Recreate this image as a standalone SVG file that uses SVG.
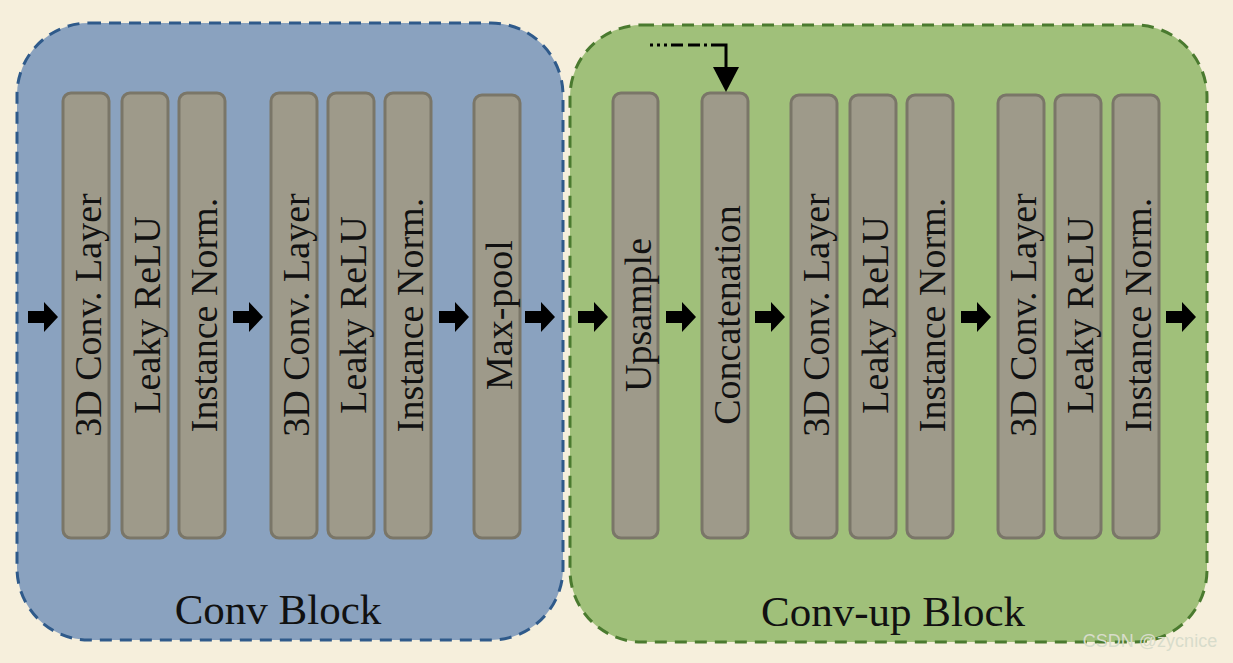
<svg xmlns="http://www.w3.org/2000/svg" width="1233" height="663" viewBox="0 0 1233 663">
<defs>
<style>
.bar{fill:#9e9a8a;stroke:#7a7668;stroke-width:3}
.t{font-family:"Liberation Serif",serif;font-size:38px;fill:#111;text-anchor:middle;dominant-baseline:central}
.bl{font-family:"Liberation Serif",serif;font-size:43px;fill:#111;text-anchor:middle}
</style>
<path id="ar" d="M-15,-6 H1 V-15 L15,0 L1,15 V6 H-15 Z" fill="#000"/>
</defs>
<rect width="1233" height="663" fill="#f6efdc"/>
<g id="convblock"><rect x="17" y="23" width="546" height="617" rx="72" fill="#8aa2bf" stroke="#2f5a8a" stroke-width="3" stroke-dasharray="12 8"/>
<text class="bl" x="278" y="624">Conv Block</text></g>
<g id="convupblock"><rect x="570" y="25" width="637" height="617" rx="72" fill="#a0c07a" stroke="#4a7a2f" stroke-width="3" stroke-dasharray="12 8"/>
<text class="bl" x="893" y="626">Conv-up Block</text></g>
<g id="n1"><rect class="bar" x="63" y="93" width="46" height="445" rx="8"/><text class="t" transform="translate(88,315) rotate(-90)">3D Conv. Layer</text></g>
<g id="n2"><rect class="bar" x="122" y="93" width="46" height="445" rx="8"/><text class="t" transform="translate(147,315) rotate(-90)">Leaky ReLU</text></g>
<g id="n3"><rect class="bar" x="179" y="93" width="46" height="445" rx="8"/><text class="t" transform="translate(204,315) rotate(-90)">Instance Norm.</text></g>
<g id="n4"><rect class="bar" x="271" y="93" width="46" height="445" rx="8"/><text class="t" transform="translate(296,315) rotate(-90)">3D Conv. Layer</text></g>
<g id="n5"><rect class="bar" x="328" y="93" width="46" height="445" rx="8"/><text class="t" transform="translate(353,315) rotate(-90)">Leaky ReLU</text></g>
<g id="n6"><rect class="bar" x="385" y="93" width="46" height="445" rx="8"/><text class="t" transform="translate(410,315) rotate(-90)">Instance Norm.</text></g>
<g id="n7"><rect class="bar" x="474" y="95" width="46" height="443" rx="8"/><text class="t" transform="translate(499,315) rotate(-90)">Max-pool</text></g>
<g id="n8"><rect class="bar" x="613" y="93" width="45" height="445" rx="8"/><text class="t" transform="translate(638,315) rotate(-90)">Upsample</text></g>
<g id="n9"><rect class="bar" x="702" y="93" width="46" height="445" rx="8"/><text class="t" transform="translate(727,315) rotate(-90)">Concatenation</text></g>
<g id="n10"><rect class="bar" x="791" y="95" width="46" height="443" rx="8"/><text class="t" transform="translate(816,315) rotate(-90)">3D Conv. Layer</text></g>
<g id="n11"><rect class="bar" x="850" y="95" width="46" height="443" rx="8"/><text class="t" transform="translate(875,315) rotate(-90)">Leaky ReLU</text></g>
<g id="n12"><rect class="bar" x="907" y="95" width="46" height="443" rx="8"/><text class="t" transform="translate(932,315) rotate(-90)">Instance Norm.</text></g>
<g id="n13"><rect class="bar" x="998" y="95" width="46" height="443" rx="8"/><text class="t" transform="translate(1023,315) rotate(-90)">3D Conv. Layer</text></g>
<g id="n14"><rect class="bar" x="1055" y="95" width="46" height="443" rx="8"/><text class="t" transform="translate(1080,315) rotate(-90)">Leaky ReLU</text></g>
<g id="n15"><rect class="bar" x="1113" y="95" width="46" height="443" rx="8"/><text class="t" transform="translate(1138,315) rotate(-90)">Instance Norm.</text></g>
<g id="connectors">
<use href="#ar" x="43" y="317"/><use href="#ar" x="248" y="317"/><use href="#ar" x="454" y="317"/><use href="#ar" x="540" y="317"/><use href="#ar" x="593" y="317"/><use href="#ar" x="681" y="317"/><use href="#ar" x="770" y="317"/><use href="#ar" x="976" y="317"/><use href="#ar" x="1181" y="317"/>
<path d="M650,45 H712" fill="none" stroke="#000" stroke-width="3" stroke-dasharray="3 4 3 4 3 4 12 5 12 4"/>
<path d="M712,45 H726 V75" fill="none" stroke="#000" stroke-width="3"/>
<path d="M713,67 H739 L726,92 Z" fill="#000"/>
</g>
<text x="1150" y="647" font-family="Liberation Sans,sans-serif" font-size="18" fill="#d8dccb" text-anchor="middle">CSDN @zycnice</text>
</svg>
